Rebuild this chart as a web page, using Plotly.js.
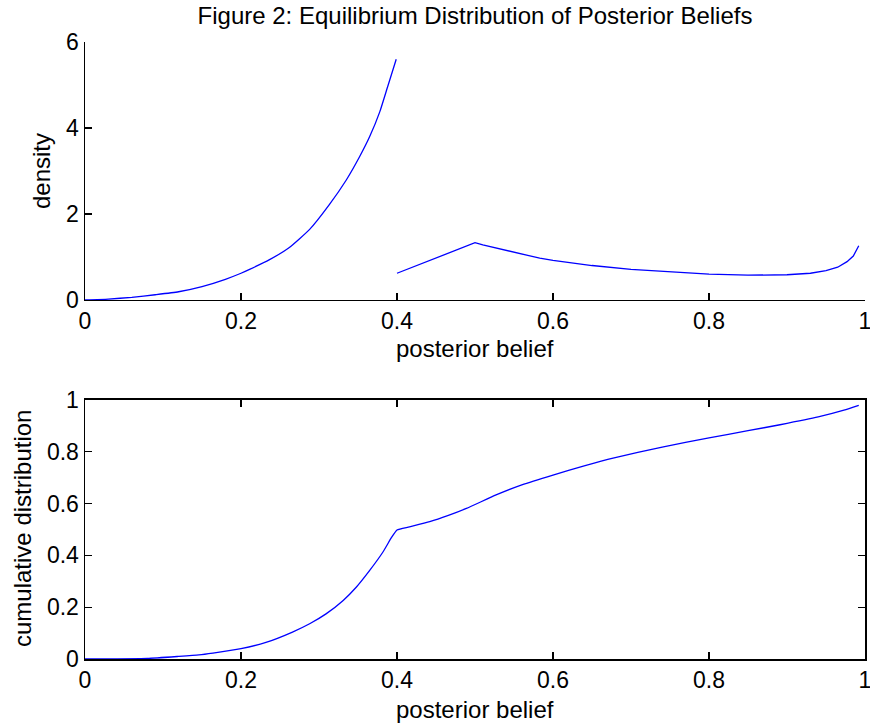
<!DOCTYPE html>
<html>
<head>
<meta charset="utf-8">
<script src="https://cdn.plot.ly/plotly-3.0.1.min.js"></script>
<style>html,body{margin:0;padding:0;background:#fff;}#chart{width:870px;height:724px;}</style>
</head>
<body>
<div id="chart"></div>
<script>
// Density, low-belief branch (0 to 0.4)
const densLowX = [0, 0.03, 0.06, 0.09, 0.12, 0.15, 0.18, 0.2, 0.211, 0.236, 0.262, 0.288, 0.313, 0.335, 0.352, 0.365, 0.378, 0.388, 0.399];
const densLowY = [0, 0.02, 0.06, 0.12, 0.19, 0.31, 0.48, 0.62, 0.71, 0.93, 1.22, 1.64, 2.21, 2.79, 3.33, 3.80, 4.38, 4.96, 5.60];
// Density, high-belief branch (0.4 to 0.99)
const densHighX = [0.4, 0.45, 0.5, 0.51, 0.52, 0.53, 0.54, 0.56, 0.583, 0.6, 0.63, 0.65, 0.7, 0.75, 0.8, 0.85, 0.9, 0.93, 0.95, 0.965, 0.977, 0.985, 0.992];
const densHighY = [0.62, 0.97, 1.33, 1.28, 1.235, 1.19, 1.15, 1.06, 0.97, 0.92, 0.85, 0.80, 0.71, 0.65, 0.60, 0.575, 0.585, 0.62, 0.68, 0.76, 0.89, 1.02, 1.26];
// Cumulative distribution
const cdfX = [0, 0.04, 0.08, 0.12, 0.146, 0.164, 0.2, 0.232, 0.266, 0.288, 0.309, 0.331, 0.348, 0.365, 0.382, 0.393, 0.4, 0.416, 0.442, 0.465, 0.489, 0.527, 0.56, 0.6, 0.64, 0.677, 0.74, 0.8, 0.85, 0.891, 0.94, 0.973, 0.992];
const cdfY = [0, 0.0005, 0.002, 0.010, 0.016, 0.023, 0.040, 0.064, 0.104, 0.136, 0.174, 0.226, 0.278, 0.342, 0.413, 0.469, 0.498, 0.51, 0.53, 0.553, 0.581, 0.633, 0.672, 0.710, 0.745, 0.775, 0.818, 0.853, 0.881, 0.904, 0.934, 0.96, 0.979];
// Tick labels
const xTicks = [0, 0.2, 0.4, 0.6, 0.8, 1];
const xTickText = ['0', '0.2', '0.4', '0.6', '0.8', '1'];
const densTicks = [0, 2, 4, 6];
const cdfTicks = [0, 0.2, 0.4, 0.6, 0.8, 1];
const cdfTickText = ['0', '0.2', '0.4', '0.6', '0.8', '1'];

const smooth = {color: '#0000ff', width: 1.3, shape: 'spline', smoothing: 0.5};
const straight = {color: '#0000ff', width: 1.3};
const traces = [
  {x: densLowX, y: densLowY, type: 'scatter', mode: 'lines', line: smooth, xaxis: 'x', yaxis: 'y', hoverinfo: 'skip'},
  {x: densHighX, y: densHighY, type: 'scatter', mode: 'lines', line: straight, xaxis: 'x', yaxis: 'y', hoverinfo: 'skip'},
  {x: cdfX, y: cdfY, type: 'scatter', mode: 'lines', line: smooth, xaxis: 'x2', yaxis: 'y2', hoverinfo: 'skip'}
];

const F = 'Liberation Sans, Arial, Helvetica, sans-serif';
const TS = 23;
const tickFont = {family: F, size: TS, color: '#000'};
const axCommon = {
  showgrid: false, zeroline: false, showline: true, linecolor: '#000', linewidth: 1.5,
  ticks: 'inside', ticklen: 7, tickwidth: 1.2, tickcolor: '#000', tickfont: tickFont,
  ticklabeloverflow: 'allow'
};

const layout = {
  width: 870, height: 724,
  margin: {l: 85, r: 5, t: 42, b: 65},
  paper_bgcolor: '#fff', plot_bgcolor: '#fff',
  showlegend: false,
  title: {text: 'Figure 2: Equilibrium Distribution of Posterior Beliefs', font: {family: F, size: 24, color: '#000'},
          x: 0.5, xref: 'paper', xanchor: 'center', y: 1 - 16/724, yref: 'container', yanchor: 'middle'},
  xaxis: Object.assign({}, axCommon, {domain: [0, 1], range: [0, 1], tickvals: xTicks, ticktext: xTickText, anchor: 'y', mirror: false}),
  yaxis: Object.assign({}, axCommon, {domain: [0.582, 1], range: [0, 6], tickvals: densTicks, anchor: 'x', mirror: false}),
  xaxis2: Object.assign({}, axCommon, {domain: [0, 1], range: [0, 1], tickvals: xTicks, ticktext: xTickText, anchor: 'y2', mirror: 'ticks'}),
  yaxis2: Object.assign({}, axCommon, {domain: [0, 0.42], range: [0, 1], tickvals: cdfTicks, ticktext: cdfTickText, anchor: 'x2', mirror: 'ticks'}),
  annotations: [
    {text: 'posterior belief', xref: 'paper', yref: 'paper', x: 0.5, y: (724 - 65 - 348) / 617, xanchor: 'center', yanchor: 'middle', showarrow: false, font: {family: F, size: 24, color: '#000'}},
    {text: 'posterior belief', xref: 'paper', yref: 'paper', x: 0.5, y: (724 - 65 - 709) / 617, xanchor: 'center', yanchor: 'middle', showarrow: false, font: {family: F, size: 24, color: '#000'}},
    {text: 'density', xref: 'paper', yref: 'paper', x: (41 - 85) / 780, y: (659 - 171) / 617, xanchor: 'center', yanchor: 'middle', textangle: -90, showarrow: false, font: {family: F, size: 24, color: '#000'}},
    {text: 'cumulative distribution', xref: 'paper', yref: 'paper', x: (22 - 85) / 780, y: (659 - 529) / 617, xanchor: 'center', yanchor: 'middle', textangle: -90, showarrow: false, font: {family: F, size: 24, color: '#000'}}
  ]
};

Plotly.newPlot('chart', traces, layout, {staticPlot: true, displayModeBar: false});
</script>
</body>
</html>
